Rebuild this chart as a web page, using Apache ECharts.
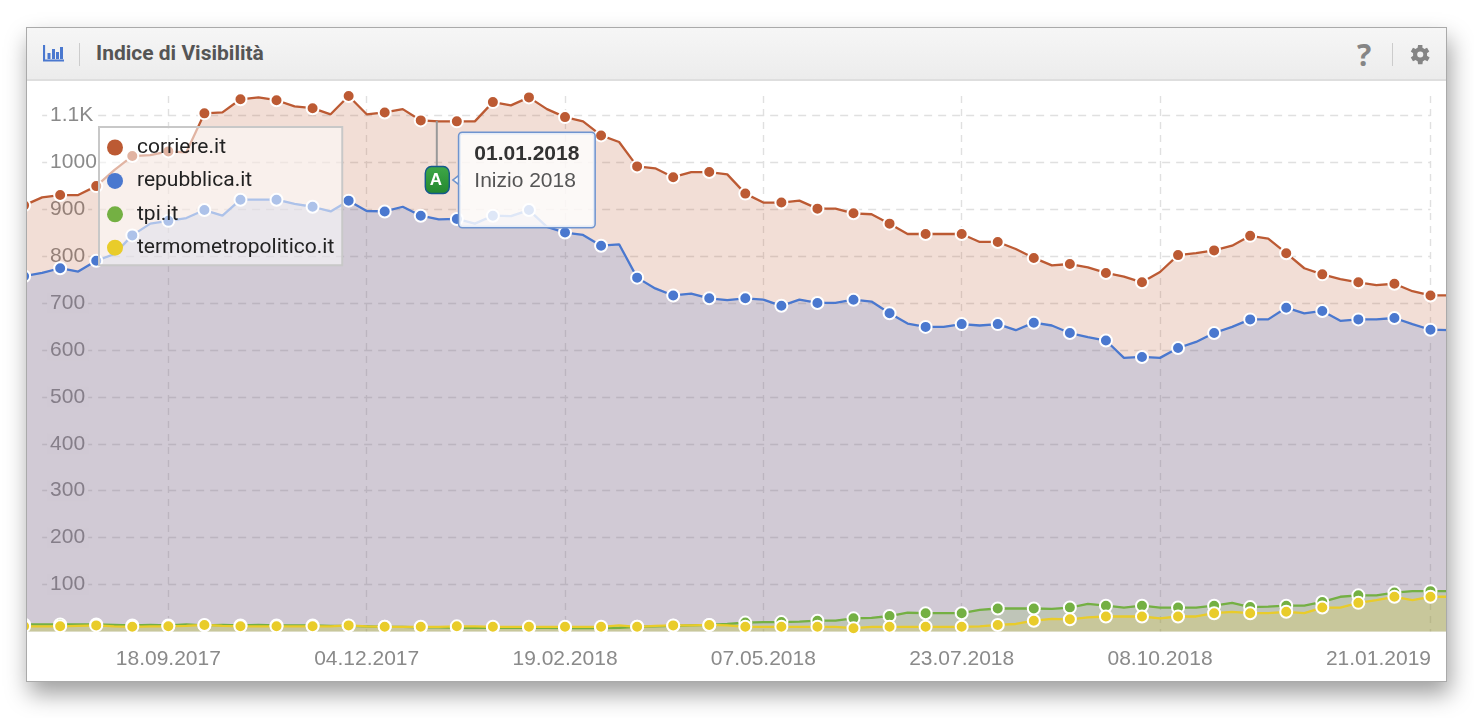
<!DOCTYPE html>
<html>
<head>
<meta charset="utf-8">
<title>Indice di Visibilità</title>
<script src="https://cdn.jsdelivr.net/npm/echarts@6/dist/echarts.min.js"></script>
<style>
  html, body { margin: 0; padding: 0; background: #fff; width: 1474px; height: 718px; overflow: hidden; }
  #card {
    position: absolute; left: 26px; top: 27px; width: 1419px; height: 653px;
    border: 1px solid #aaa; background: #fff; overflow: hidden;
  }
  #shadow {
    position: absolute; left: 26px; top: 27px; width: 1421px; height: 655px;
    box-shadow: 3px 12px 22px rgba(0,0,0,.38);
  }
  #head {
    position: absolute; left: 0; top: 0; right: 0; height: 51px;
    background: linear-gradient(#f6f6f6, #ececec); border-bottom: 2px solid #dedede; z-index: 2;
  }
  #title { position: absolute; left: 69px; top: 13px; font: bold 21px Roboto, sans-serif; color: #555; }
  .sep { position: absolute; top: 15px; width: 1px; height: 23px; background: #ccc; }
  #help { position: absolute; left: 1330px; top: 9px; font: bold 30px "Open Sans", sans-serif; color: #858585; line-height: 36px; }
  #chart { position: absolute; left: -27px; top: -28px; width: 1474px; height: 718px; }
  svg { position: absolute; }
</style>
</head>
<body>
<div id="shadow"></div>
<div id="card">
  <div id="chart"></div>
  <div id="head">
    <svg style="left:16px;top:16px" width="22" height="19" viewBox="0 0 22 19">
      <path d="M1 1v15.500h20" fill="none" stroke="#4a78cf" stroke-width="2.200"/>
      <path d="M4.500 9h3v6h-3zM9 5h3v10H9zM13 8h3v7h-3zM17 3h3v12h-3z" fill="#4a78cf"/>
    </svg>
    <div class="sep" style="left:52px"></div>
    <div id="title">Indice di Visibilità</div>
    <div id="help">?</div>
    <div class="sep" style="left:1365px"></div>
    <svg style="left:1383px;top:16px" width="21" height="21" viewBox="0 0 24 24">
      <path fill="#858585" d="M19.4 13.3c.1-.4.1-.9.1-1.3s0-.9-.1-1.3l2.6-2-2.5-4.3-3.1 1.2c-.7-.5-1.4-1-2.2-1.3L14.200 1h-5l-.5 3.300c-.8.3-1.500.8-2.200 1.300L3.400 4.400.9 8.700l2.700 2c-.1.4-.1.9-.1 1.300s0 .9.1 1.300l-2.700 2 2.500 4.300 3.100-1.200c.7.500 1.400 1 2.200 1.300l.5 3.300h5l.5-3.300c.8-.3 1.500-.8 2.200-1.300l3.100 1.200 2.500-4.300zM11.700 15.500a3.500 3.500 0 1 1 0-7 3.500 3.500 0 0 1 0 7z"/>
    </svg>
  </div>
</div>
<script>
var dates = [
  '24.07.2017','31.07.2017','07.08.2017','14.08.2017','21.08.2017','28.08.2017','04.09.2017','11.09.2017',
  '18.09.2017','25.09.2017','02.10.2017','09.10.2017','16.10.2017','23.10.2017','30.10.2017','06.11.2017',
  '13.11.2017','20.11.2017','27.11.2017','04.12.2017','11.12.2017','18.12.2017','25.12.2017','01.01.2018',
  '08.01.2018','15.01.2018','22.01.2018','29.01.2018','05.02.2018','12.02.2018','19.02.2018','26.02.2018',
  '05.03.2018','12.03.2018','19.03.2018','26.03.2018','02.04.2018','09.04.2018','16.04.2018','23.04.2018',
  '30.04.2018','07.05.2018','14.05.2018','21.05.2018','28.05.2018','04.06.2018','11.06.2018','18.06.2018',
  '25.06.2018','02.07.2018','09.07.2018','16.07.2018','23.07.2018','30.07.2018','06.08.2018','13.08.2018',
  '20.08.2018','27.08.2018','03.09.2018','10.09.2018','17.09.2018','24.09.2018','01.10.2018','08.10.2018',
  '15.10.2018','22.10.2018','29.10.2018','05.11.2018','12.11.2018','19.11.2018','26.11.2018','03.12.2018',
  '10.12.2018','17.12.2018','24.12.2018','31.12.2018','07.01.2019','14.01.2019','21.01.2019','28.01.2019'
];
var tickLabels = ['18.09.2017','04.12.2017','19.02.2018','07.05.2018','23.07.2018','08.10.2018','21.01.2019'];
var gridValues = [100,200,300,400,500,600,700,800,900,1000,1100];

var corriere = [
  908,925,930,930,949,983,1013,1015,1023,1021,1104,1106,1134,1138,1132,1119,
  1115,1102,1141,1102,1106,1113,1089,1087,1087,1087,1128,1121,1138,1113,1096,1087,
  1057,1043,991,987,968,979,979,974,933,914,914,918,901,901,891,889,
  869,847,847,847,847,830,830,815,796,780,783,776,764,756,744,766,
  802,806,812,822,843,837,806,774,761,751,744,738,741,725,716,716
];
var repubblica = [
  757,764,774,767,790,804,844,869,875,881,898,886,920,920,920,911,
  905,895,918,896,895,905,886,878,879,869,886,885,898,862,850,845,
  822,825,754,731,716,720,710,706,710,707,694,707,700,700,707,703,
  678,656,649,649,655,652,655,642,658,652,636,627,620,583,585,583,
  604,617,636,649,665,665,690,678,683,662,665,665,668,655,643,642
];
var tpi = [
  15,15,15,15,15,14,13,14,13,15,13,14,13,14,13,13,
  13,12,12,11,10,10,9,9,8,8,8,8,8,8,7,7,
  7,8,10,11,12,13,14,16,19,20,20,21,23,23,28,29,
  33,40,39,39,39,46,49,49,49,48,51,59,55,51,55,51,
  51,51,55,61,52,53,55,55,63,74,77,77,83,86,86,86
];
var termometro = [
  11,11,11,12,13,11,10,11,11,12,14,12,11,11,11,11,
  11,11,13,11,10,10,10,10,11,11,10,10,10,10,10,10,
  10,13,10,12,13,13,14,13,10,10,10,10,10,10,7,10,
  10,10,10,10,10,11,14,16,23,27,26,30,32,32,32,28,
  32,32,39,42,39,39,42,39,51,51,61,67,74,67,74,74
];

var noteDate = '01.01.2018';
var noteStem = 1040;
var noteFlag = 962;

var axisFont = 'Liberation Sans, Arial, sans-serif';

function lineSeries(name, data, color) {
  return {
    name: name,
    type: 'line',
    data: data,
    clip: false,
    showSymbol: true,
    showAllSymbol: true,
    symbol: 'circle',
    symbolSize: function (v, p) { return p.dataIndex % 2 === 0 ? 12 : 0; },
    lineStyle: { color: color, width: 2.3 },
    itemStyle: { color: color, borderColor: '#fff', borderWidth: 2 },
    areaStyle: { color: color, opacity: 0.2 },
    silent: true,
    animation: false
  };
}

var series = [
  lineSeries('corriere.it', corriere, '#bc5a33'),
  lineSeries('repubblica.it', repubblica, '#4a78cf'),
  lineSeries('tpi.it', tpi, '#74b043'),
  lineSeries('termometropolitico.it', termometro, '#e9cc2a')
];

// horizontal grid stops short of both plot edges, so it is a markLine rather than splitLine
series[0].markLine = {
  silent: true, symbol: 'none', z: 0, animation: false, label: { show: false },
  lineStyle: { color: '#e0e0e0', type: [8, 6], width: 1.4 },
  data: gridValues.map(function (v) {
    return [{ coord: [dates[1], v] }, { coord: [dates[78], v] }];
  })
};

series[3].markPoint = {
  silent: true, animation: false, z: 6,
  data: [
    // stem of the flag
    {
      coord: [noteDate, noteStem], symbol: 'rect', symbolSize: [2, 45], symbolOffset: [-2, 0],
      itemStyle: { color: '#999', borderWidth: 0 }, label: { show: false }
    },
    // callout box
    {
      coord: [noteDate, noteFlag], symbol: 'rect', symbolSize: [25, 27],
      itemStyle: { color: 'rgba(0,0,0,0)', borderWidth: 0 },
      label: {
        show: true, position: 'right', distance: 8,
        formatter: '{d|01.01.2018}\n{t|Inizio 2018}',
        backgroundColor: 'rgba(255,255,255,0.82)', borderColor: '#6f94cf', borderWidth: 1.5, borderRadius: 3,
        padding: [8, 15, 32, 15],
        rich: {
          d: { fontFamily: axisFont, fontWeight: 'bold', fontSize: 21, color: '#333', lineHeight: 27 },
          t: { fontFamily: axisFont, fontSize: 21, color: '#555', lineHeight: 27 }
        }
      }
    },
    // callout arrow: blue triangle, then a paler one that opens its base into the box
    {
      coord: [noteDate, noteFlag], symbol: 'triangle', symbolRotate: 90, symbolSize: [14, 9], symbolOffset: [17.3, 0],
      itemStyle: { color: '#6f94cf', borderWidth: 0 }, label: { show: false }
    },
    {
      coord: [noteDate, noteFlag], symbol: 'triangle', symbolRotate: 90, symbolSize: [11, 7.5], symbolOffset: [19, 0],
      itemStyle: { color: '#fbf7f5', borderWidth: 0 }, label: { show: false }
    },
    // flag
    {
      coord: [noteDate, noteFlag], symbol: 'roundRect', symbolSize: [24, 27], symbolOffset: [-1.5, 0],
      itemStyle: {
        color: { type: 'linear', x: 0, y: 0, x2: 0, y2: 1, colorStops: [{ offset: 0, color: '#3fa848' }, { offset: 1, color: '#23872f' }] },
        borderColor: '#14598c', borderWidth: 1.5
      },
      label: {
        show: true, position: 'inside', formatter: 'A', offset: [-1.5, 0],
        fontFamily: axisFont, fontWeight: 'bold', fontSize: 17, color: '#fff'
      }
    }
  ]
};

var chart = echarts.init(document.getElementById('chart'));
chart.setOption({
  animation: false,
  grid: { left: 24.1, right: 25.5, top: 96, bottom: 86.5, containLabel: false },
  legend: {
    left: 99, top: 127, orient: 'vertical', icon: 'circle', selectedMode: false,
    itemWidth: 30, itemHeight: 16, itemGap: 12.4, padding: [10, 8, 7, 8],
    backgroundColor: 'rgba(255,255,255,0.55)', borderColor: '#c8c8c8', borderWidth: 2,
    itemStyle: { borderWidth: 0 },
    textStyle: { fontFamily: 'Roboto, sans-serif', fontSize: 21, color: '#222', padding: [0, 0, 0, 2] },
    data: series.map(function (s) { return s.name; })
  },
  xAxis: {
    type: 'category',
    data: dates,
    boundaryGap: false,
    axisLine: { show: false },
    axisTick: { show: false },
    splitLine: {
      show: true,
      interval: function (i, v) { return tickLabels.indexOf(v) >= 0; },
      lineStyle: { color: '#e0e0e0', type: [7, 6], width: 1.4 }
    },
    axisLabel: {
      interval: function (i, v) { return tickLabels.indexOf(v) >= 0; },
      margin: 17,
      fontFamily: axisFont,
      fontSize: 21,
      color: '#8a8a8a',
      formatter: function (v) { return v === '21.01.2019' ? '{last|' + v + '}' : v; },
      rich: {
        last: { fontFamily: axisFont, fontSize: 21, color: '#8a8a8a', padding: [0, 104, 0, 0] }
      }
    }
  },
  yAxis: {
    type: 'value',
    min: 0,
    max: 1141,
    interval: 100,
    z: 1,
    axisLine: { show: false },
    axisTick: { show: false },
    splitLine: { show: false },
    axisLabel: {
      inside: true,
      margin: 23,
      showMinLabel: false,
      showMaxLabel: false,
      fontFamily: axisFont,
      fontSize: 21,
      color: '#8a8a8a',
      backgroundColor: '#fff',
      padding: [0, 3],
      formatter: function (v) { return v === 1100 ? '1.1K' : String(v); }
    }
  },
  series: series
});
</script>
</body>
</html>
